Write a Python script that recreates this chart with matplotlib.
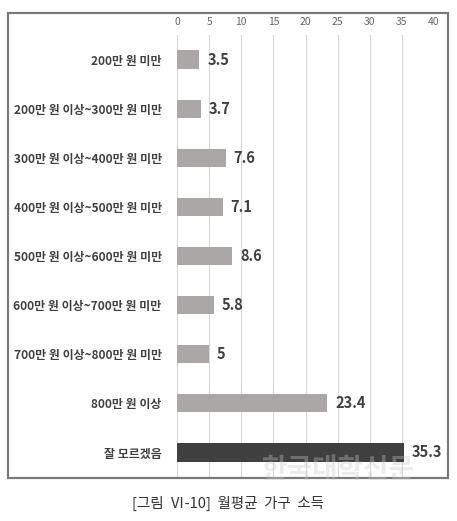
import matplotlib
matplotlib.use("Agg")
import matplotlib.pyplot as plt
from matplotlib.patches import Rectangle

plt.rcParams['font.family'] = ['Noto Sans CJK KR', 'DejaVu Sans']

categories = ["200만 원 미만", "200만 원 이상~300만 원 미만", "300만 원 이상~400만 원 미만",
              "400만 원 이상~500만 원 미만", "500만 원 이상~600만 원 미만", "600만 원 이상~700만 원 미만",
              "700만 원 이상~800만 원 미만", "800만 원 이상", "잘 모르겠음"]
values = [3.5, 3.7, 7.6, 7.1, 8.6, 5.8, 5, 23.4, 35.3]
value_labels = ["3.5", "3.7", "7.6", "7.1", "8.6", "5.8", "5", "23.4", "35.3"]
xticks = [0, 5, 10, 15, 20, 25, 30, 35, 40]
caption = "[그림  Ⅵ-10]  월평균  가구  소득"

W, H = 457, 521
fig = plt.figure(figsize=(W / 100, H / 100), dpi=100)
fig.patch.set_facecolor("white")

# outer frame
fig.patches.append(Rectangle((8 / W, 1 - 478 / H), 440 / W, 465 / H, transform=fig.transFigure,
                             fill=False, edgecolor="#7a7a7a", linewidth=1.6, zorder=0))

ax = fig.add_axes([177 / W, 1 - 477 / H, (434 - 177) / W, (477 - 35) / H])
ypos = list(range(len(categories)))
colors = ["#aba7a7"] * (len(categories) - 1) + ["#404040"]
ax.barh(ypos, values, height=0.37, color=colors, zorder=2)
ax.set_xlim(0, 40)
ax.set_ylim(len(categories) - 0.5, -0.5)
ax.set_xticks(xticks)
ax.xaxis.tick_top()
ax.tick_params(axis='x', length=0, pad=6, labelsize=7.5, labelcolor="#666666")
ax.set_yticks(ypos)
ax.set_yticklabels(categories, fontsize=8.6, fontweight="bold", color="#404040")
ax.tick_params(axis='y', length=0, pad=11)
ax.grid(axis='x', color="#d9d9d9", linewidth=0.8, zorder=0)
for s in ax.spines.values():
    s.set_visible(False)

for y, v, lab in zip(ypos, values, value_labels):
    ax.text(v + 1.2, y, lab, va="center", ha="left", fontsize=10.5, fontweight="bold", color="#404040")

# watermark
fig.text(0.74, 1 - 470 / H, "한국대학신문", fontsize=20, fontweight="bold", color="#c8c8c8",
         alpha=0.35, ha="center", va="center", zorder=5)

fig.text(0.5, 1 - 503 / H, caption, fontsize=10.5, color="#333333", ha="center", va="center")

fig.savefig("out.png", dpi=100)
